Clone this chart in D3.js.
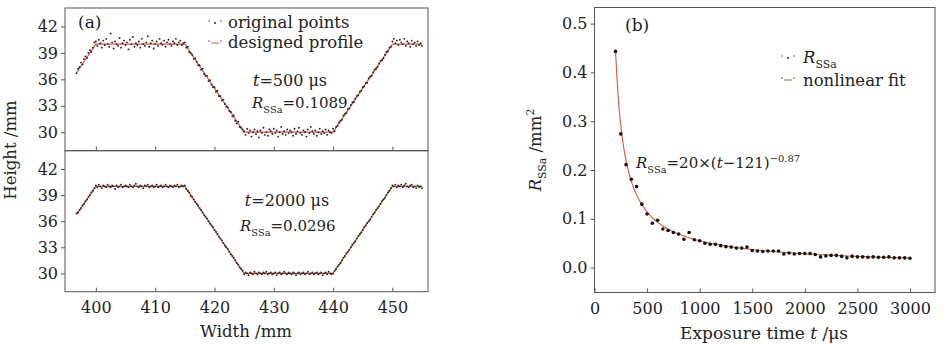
<html>
<head>
<script src="https://cdnjs.cloudflare.com/ajax/libs/d3/7.8.5/d3.min.js"></script>
<style>
    body { margin: 0; background: #fff; }
    svg { font-family: "DejaVu Serif", serif; }
    .axis path, .axis line { stroke: #555; }
    .axis text { font-family: "DejaVu Serif", serif; font-size: 16px; fill: #222; }
</style>
</head>
<body>
<script>
    // ---- panel (a): width sampling grid and heights ----
    var widthStart = 396.75, widthEnd = 455, widthStep = 0.25;
    var widths = d3.range(widthStart, widthEnd + 0.001, widthStep);

    var heights500 = [
        36.7, 37.2, 37.4, 37.9, 37.7, 38.3, 38.6, 38.4, 39.0, 39.3, 39.1, 39.6, 40.2,
        40.3, 39.8, 40.5, 40.1, 39.6, 40.4, 39.9, 40.6, 40.0, 39.7,
        41.2, 40.2, 39.5, 40.3, 40.0, 39.8, 40.7, 39.6, 40.1, 40.4,
        39.9, 40.2, 39.4, 40.5, 40.0, 40.8, 39.7, 40.1, 39.9, 40.3,
        39.6, 40.6, 40.0, 39.8, 40.2, 40.9, 39.7, 40.1, 40.4, 39.5,
        40.0, 40.3, 39.8, 40.6, 40.1, 39.9, 40.4, 39.7, 40.2, 40.5,
        40.0, 39.8, 40.3, 40.1, 40.6, 39.9, 40.2, 40.4, 39.9, 40.1,
        40.2, 39.6, 39.7, 39.1, 39.0, 38.8, 38.3, 38.4, 38.0, 37.6,
        37.6, 37.1, 37.2, 36.6, 36.4, 36.4, 35.8, 35.9, 35.4, 35.1,
        35.1, 34.6, 34.7, 34.1, 34.1, 33.6, 33.7, 33.2, 32.9, 32.8,
        32.4, 32.3, 31.8, 31.9, 31.3, 31.0, 31.2, 30.6, 30.5, 30.3,
        30.1, 29.7, 30.4, 29.9, 30.2, 29.5, 30.0, 30.3, 29.8, 30.1,
        29.4, 30.2, 29.9, 30.5, 29.7, 30.0, 29.6, 30.3, 30.1, 29.8,
        30.4, 29.9, 30.2, 29.5, 30.0, 30.6, 29.8, 30.1, 29.7, 30.3,
        29.9, 30.2, 30.0, 29.6, 30.4, 29.8, 30.1, 30.5, 29.9, 29.7,
        30.2, 30.0, 29.5, 30.3, 29.9, 30.6, 30.1, 29.8, 30.2, 29.6,
        30.0, 30.4, 29.8, 30.1, 29.9, 30.3, 29.7, 30.2, 30.0, 29.9,
        30.4, 30.1, 30.6, 30.7, 31.1, 31.3, 31.4, 31.9, 32.1, 32.2,
        32.6, 32.7, 33.1, 33.4, 33.4, 33.8, 34.1, 34.2, 34.6, 34.7,
        35.1, 35.2, 35.6, 35.6, 36.1, 36.3, 36.4, 36.8, 37.1, 37.2,
        37.4, 37.8, 38.1, 38.2, 38.4, 38.8, 39.1, 39.2, 39.6, 39.7,
        40.3, 40.6, 40.1, 40.4, 39.9, 40.5, 40.2, 40.0, 40.6, 39.8,
        40.3, 40.1, 39.7, 40.4, 40.0, 40.2, 39.8, 40.3, 39.9, 40.1, 39.8
    ];

    var heights2000 = [
        36.9, 37.0, 37.3, 37.5, 37.8, 38.0, 38.3, 38.5, 38.8, 39.0, 39.3, 39.5, 39.8,
        40.1, 39.9, 40.2, 40.0, 39.8, 40.1, 40.0, 39.9, 40.2, 40.0,
        39.9, 40.1, 40.0, 39.7, 40.1, 39.9, 40.0, 40.2, 39.9, 40.0,
        40.1, 40.0, 39.9, 40.2, 40.0, 39.9, 40.1, 40.3, 40.0, 39.9,
        40.1, 40.0, 39.8, 40.1, 40.0, 40.2, 39.9, 40.0, 40.1, 39.9,
        40.0, 40.2, 39.9, 40.0, 40.1, 39.9, 40.0, 40.2, 40.0, 39.9,
        40.1, 40.0, 39.9, 40.1, 40.0, 40.2, 39.9, 40.0, 40.1, 40.0,
        40.1, 39.7, 39.5, 39.3, 38.9, 38.8, 38.5, 38.2, 38.0, 37.8,
        37.5, 37.3, 37.0, 36.7, 36.5, 36.3, 36.0, 35.7, 35.5, 35.3,
        35.0, 34.8, 34.5, 34.2, 34.0, 33.8, 33.5, 33.2, 33.0, 32.8,
        32.5, 32.2, 32.0, 31.8, 31.5, 31.2, 31.0, 30.7, 30.5, 30.3,
        29.9, 30.1, 30.0, 29.8, 30.1, 30.0, 29.9, 30.2, 30.0, 29.9,
        30.1, 30.0, 29.9, 30.1, 30.0, 30.2, 29.9, 30.0, 30.1, 29.9,
        30.0, 30.1, 29.8, 30.0, 30.1, 29.9, 30.0, 30.2, 30.0, 29.9,
        30.1, 30.0, 29.9, 30.1, 30.0, 29.8, 30.0, 30.1, 29.9, 30.0,
        30.1, 29.9, 30.0, 30.2, 29.9, 30.0, 30.1, 29.9, 30.0, 30.1,
        29.9, 30.0, 30.1, 29.8, 30.0, 30.1, 29.9, 30.2, 30.0, 29.9,
        30.0, 30.3, 30.5, 30.8, 31.0, 31.2, 31.5, 31.8, 32.0, 32.3,
        32.5, 32.7, 33.0, 33.3, 33.5, 33.7, 34.0, 34.3, 34.5, 34.7,
        35.0, 35.3, 35.5, 35.8, 36.0, 36.2, 36.5, 36.8, 37.0, 37.3,
        37.5, 37.7, 38.0, 38.3, 38.5, 38.7, 39.0, 39.3, 39.5, 39.8,
        40.1, 40.0, 40.2, 39.9, 40.1, 40.0, 40.2, 39.9, 40.1, 40.3,
        40.0, 39.9, 40.1, 40.2, 39.9, 40.0, 39.8, 40.1, 39.9, 40.0, 39.8
    ];

    // designed profile knots
    var profileWidth = [396.75, 400, 415, 425, 440, 450, 455];
    var profileHeight = [36.75, 40, 40, 30, 30, 40, 40];

    var heightTicks = [30, 33, 36, 39, 42];
    var widthTicks = [400, 410, 420, 430, 440, 450];

    // ---- panel (b): exposure time vs R_SSa ----
    var times = d3.range(200, 3001, 50);
    var rssa = [
        0.443, 0.274, 0.211, 0.181, 0.166, 0.130, 0.110, 0.091, 0.097, 0.079,
        0.076, 0.072, 0.069, 0.058, 0.072, 0.057, 0.055, 0.050, 0.048, 0.048,
        0.045, 0.043, 0.042, 0.040, 0.040, 0.042, 0.035, 0.034, 0.033, 0.034,
        0.034, 0.034, 0.028, 0.030, 0.028, 0.029, 0.029, 0.029, 0.027, 0.022,
        0.024, 0.025, 0.025, 0.023, 0.020, 0.023, 0.022, 0.022, 0.021, 0.022,
        0.021, 0.021, 0.022, 0.020, 0.020, 0.020, 0.019
    ];
    // nonlinear fit shown in the figure: R = 20 (t - 121)^-0.87
    var fitA = 20, fitT0 = 121, fitP = -0.87;
    var timeTicks = [0, 500, 1000, 1500, 2000, 2500, 3000];
    var rssaTicks = [0, 0.1, 0.2, 0.3, 0.4, 0.5];

    var pointColor = "#2a2222";
    var lineColor = "#e0553c";

    var svg = d3.select("body").append("svg")
        .attr("width", 944)
        .attr("height", 344);

    // rich text helper: parts [{t, i (italic), sub, sup}]
    function richText(g, x, y, parts, size, anchor) {
        var text = g.append("text")
            .attr("x", x).attr("y", y)
            .attr("font-size", size)
            .attr("fill", "#222")
            .attr("text-anchor", anchor || "start");
        var shift = 0;
        parts.forEach(function (p) {
            var target = p.sub ? size * 0.3 : (p.sup ? -size * 0.4 : 0);
            var ts = text.append("tspan")
                .attr("dy", target - shift)
                .attr("font-size", (p.sub || p.sup) ? size * 0.66 : size)
                .text(p.t);
            if (p.i) ts.attr("font-style", "italic");
            shift = target;
        });
        return text;
    }

    // ---------- panel (a) ----------
    var aLeft = 65, aRight = 428, aTop = 8, aMid = 150.7, aBottom = 291.7;

    var xA = d3.scaleLinear().domain([394.8, 456]).range([aLeft, aRight]);

    function drawProfilePanel(top, bottom, heights, showXLabels) {
        var y = d3.scaleLinear().domain([27.9, 44.1]).range([bottom, top]);
        var g = svg.append("g");

        g.append("rect")
            .attr("x", aLeft).attr("y", top)
            .attr("width", aRight - aLeft).attr("height", bottom - top)
            .attr("fill", "none").attr("stroke", "#555");

        var line = d3.line()
            .x(function (d, i) { return xA(profileWidth[i]); })
            .y(function (d) { return y(d); });

        g.append("path")
            .datum(profileHeight)
            .attr("fill", "none")
            .attr("stroke", lineColor)
            .attr("stroke-width", 1.2)
            .attr("d", line);

        g.selectAll("circle")
            .data(heights)
            .enter().append("circle")
            .attr("cx", function (d, i) { return xA(widths[i]); })
            .attr("cy", function (d) { return y(d); })
            .attr("r", 0.95)
            .attr("fill", pointColor);

        var yAxis = d3.axisLeft(y).tickValues(heightTicks).tickSize(4).tickSizeOuter(0);
        g.append("g").attr("class", "axis")
            .attr("transform", "translate(" + aLeft + ",0)")
            .call(yAxis)
            .call(function (s) { s.select(".domain").remove(); });

        var xAxis = d3.axisBottom(xA).tickValues(widthTicks).tickSize(-4).tickSizeOuter(0)
            .tickPadding(10);
        if (!showXLabels) xAxis.tickFormat("");
        g.append("g").attr("class", "axis")
            .attr("transform", "translate(0," + bottom + ")")
            .call(xAxis)
            .call(function (s) { s.select(".domain").remove(); });
        return g;
    }

    drawProfilePanel(aTop, aMid, heights500, false);
    drawProfilePanel(aMid, aBottom, heights2000, true);

    svg.append("text").attr("x", 78).attr("y", 28)
        .attr("font-size", 17).attr("fill", "#222").text("(a)");

    // legend symbols
    function pointsSymbol(x, y) {
        svg.append("line").attr("x1", x).attr("x2", x).attr("y1", y - 3).attr("y2", y - 1)
            .attr("stroke", "#666");
        svg.append("circle").attr("cx", x + 6).attr("cy", y).attr("r", 1).attr("fill", pointColor);
        svg.append("line").attr("x1", x + 12).attr("x2", x + 12).attr("y1", y - 3).attr("y2", y - 1)
            .attr("stroke", "#666");
    }
    function lineSymbol(x, y) {
        svg.append("line").attr("x1", x).attr("x2", x).attr("y1", y - 3).attr("y2", y - 1)
            .attr("stroke", "#666");
        svg.append("line").attr("x1", x + 2).attr("x2", x + 10).attr("y1", y).attr("y2", y)
            .attr("stroke", lineColor);
        svg.append("line").attr("x1", x + 12).attr("x2", x + 12).attr("y1", y - 3).attr("y2", y - 1)
            .attr("stroke", "#666");
    }

    pointsSymbol(209, 23);
    svg.append("text").attr("x", 228).attr("y", 28).attr("font-size", 16.5)
        .attr("fill", "#222").text("original points");
    lineSymbol(209, 43);
    svg.append("text").attr("x", 228).attr("y", 48).attr("font-size", 16.5)
        .attr("fill", "#222").text("designed profile");

    richText(svg, 290, 86, [{ t: "t", i: true }, { t: "=500 \u03bcs" }], 16, "middle");
    richText(svg, 252, 108, [{ t: "R", i: true }, { t: "SSa", sub: true }, { t: "=0.1089" }], 15, "start");
    richText(svg, 287, 206, [{ t: "t", i: true }, { t: "=2000 \u03bcs" }], 16, "middle");
    richText(svg, 240, 231, [{ t: "R", i: true }, { t: "SSa", sub: true }, { t: "=0.0296" }], 15, "start");

    svg.append("text")
        .attr("transform", "translate(16,150) rotate(-90)")
        .attr("text-anchor", "middle").attr("font-size", 16.5).attr("fill", "#222")
        .text("Height /mm");
    svg.append("text")
        .attr("x", 246).attr("y", 337)
        .attr("text-anchor", "middle").attr("font-size", 16.5).attr("fill", "#222")
        .text("Width /mm");

    // ---------- panel (b) ----------
    var bLeft = 594.5, bRight = 935, bTop = 7.5, bBottom = 292.5;
    var xB = d3.scaleLinear().domain([0, 3238]).range([bLeft, bRight]);
    var yB = d3.scaleLinear().domain([-0.051, 0.533]).range([bBottom, bTop]);

    svg.append("rect")
        .attr("x", bLeft).attr("y", bTop)
        .attr("width", bRight - bLeft).attr("height", bBottom - bTop)
        .attr("fill", "none").attr("stroke", "#555");

    var fitTimes = d3.range(times[0], times[times.length - 1] + 1, 5);
    var fitLine = d3.line()
        .x(function (t) { return xB(t); })
        .y(function (t) { return yB(fitA * Math.pow(t - fitT0, fitP)); });

    svg.append("path")
        .datum(fitTimes)
        .attr("fill", "none")
        .attr("stroke", lineColor)
        .attr("stroke-width", 1.1)
        .attr("d", fitLine);

    svg.append("g").selectAll("circle")
        .data(rssa)
        .enter().append("circle")
        .attr("cx", function (d, i) { return xB(times[i]); })
        .attr("cy", function (d) { return yB(d); })
        .attr("r", 1.8)
        .attr("fill", "#111");

    svg.append("g").attr("class", "axis")
        .attr("transform", "translate(" + bLeft + ",0)")
        .call(d3.axisLeft(yB).tickValues(rssaTicks).tickFormat(d3.format(".1f")).tickSize(4).tickSizeOuter(0))
        .call(function (s) { s.select(".domain").remove(); });

    svg.append("g").attr("class", "axis")
        .attr("transform", "translate(0," + bBottom + ")")
        .call(d3.axisBottom(xB).tickValues(timeTicks).tickFormat(d3.format("d"))
            .tickSize(-4).tickSizeOuter(0).tickPadding(10))
        .call(function (s) { s.select(".domain").remove(); });

    svg.append("text").attr("x", 625).attr("y", 31)
        .attr("font-size", 17).attr("fill", "#222").text("(b)");

    // legend (b)
    pointsSymbol(782, 58);
    richText(svg, 803, 63, [{ t: "R", i: true }, { t: "SSa", sub: true }], 16.5, "start");
    lineSymbol(782, 80);
    svg.append("text").attr("x", 803).attr("y", 86).attr("font-size", 16.5)
        .attr("fill", "#222").text("nonlinear fit");

    richText(svg, 636, 168, [
        { t: "R", i: true }, { t: "SSa", sub: true }, { t: "=20\u00d7(" },
        { t: "t", i: true }, { t: "\u2212121)" }, { t: "\u22120.87", sup: true }
    ], 15, "start");

    var yTitle = richText(svg, 0, 0, [
        { t: "R", i: true }, { t: "SSa", sub: true }, { t: " /mm" }, { t: "2", sup: true }
    ], 16.5, "middle");
    yTitle.attr("transform", "translate(541,150) rotate(-90)");

    richText(svg, 764, 339, [
        { t: "Exposure time " }, { t: "t", i: true }, { t: " /\u03bcs" }
    ], 17, "middle");
</script>
</body>
</html>
